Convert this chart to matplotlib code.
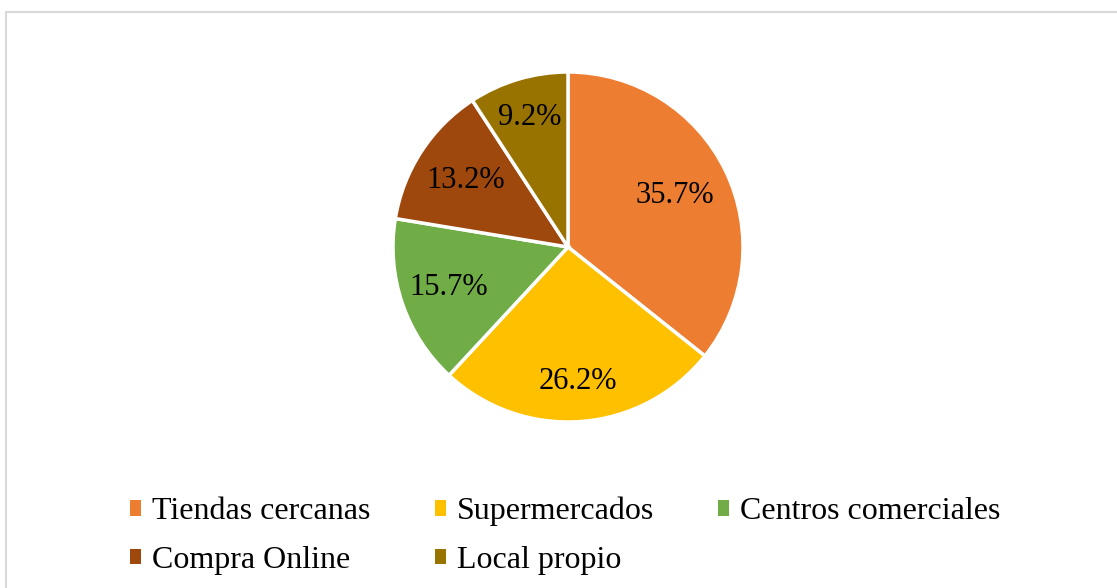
import matplotlib
matplotlib.use("Agg")
import matplotlib.pyplot as plt
import numpy as np
from matplotlib.patches import Rectangle, Patch

categories = ["Tiendas cercanas", "Supermercados", "Centros comerciales", "Compra Online", "Local propio"]
values = [35.7, 26.2, 15.7, 13.2, 9.2]
pct_labels = ["35.7%", "26.2%", "15.7%", "13.2%", "9.2%"]
colors = ["#ED7D31", "#FFC000", "#70AD47", "#9E480E", "#997300"]
label_dist = [0.68, 0.77, 0.72, 0.70, 0.77]

plt.rcParams['font.family'] = ['Liberation Serif', 'DejaVu Serif']

W, H, DPI = 1117, 588, 100
fig = plt.figure(figsize=(W / DPI, H / DPI), dpi=DPI)

# chart border (light gray), top/left visible
fig.patches.append(Rectangle((6 / W, -0.1), 2.0, (H - 12) / H + 0.1, transform=fig.transFigure,
                             fill=False, edgecolor="#D9D9D9", linewidth=1.5))

cx, cy, r = 568, 247, 175
ax = fig.add_axes([(cx - r) / W, (H - cy - r) / H, 2 * r / W, 2 * r / H])
wedges, _ = ax.pie(values, colors=colors, startangle=90, counterclock=False,
                   wedgeprops=dict(edgecolor="white", linewidth=2.5), radius=1.0)
ax.set_xlim(-1, 1)
ax.set_ylim(-1, 1)
ax.set_aspect("equal")
ax.axis("off")

for w, lab, d in zip(wedges, pct_labels, label_dist):
    ang = np.deg2rad((w.theta1 + w.theta2) / 2)
    ax.text(d * np.cos(ang), d * np.sin(ang), lab, ha="center", va="center", fontsize=22, color="black")

order = [0, 3, 1, 4, 2]
labels = [categories[i] for i in order]
handles = [Patch(facecolor=colors[i], edgecolor="none") for i in order]
leg = fig.legend(handles, labels, ncol=3, loc="upper left", bbox_to_anchor=(114 / W, 1 - 481 / H),
                 frameon=False, fontsize=23, handlelength=0.35, handleheight=0.35, handletextpad=0.35,
                 columnspacing=2.0, labelspacing=0.62, borderpad=0)

fig.savefig("out.png", dpi=DPI, facecolor="white")
